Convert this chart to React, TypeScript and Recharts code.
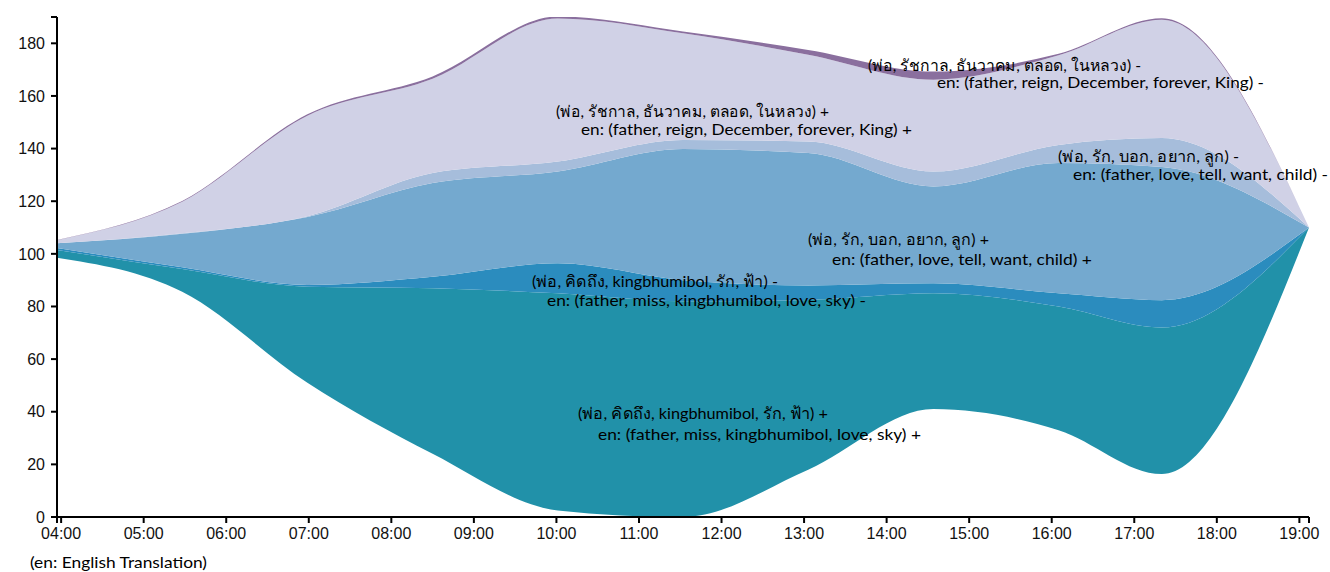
import { AreaChart, Area, XAxis, YAxis } from "recharts";

// sampling times
const times = ["03:57", "05:28", "06:59", "08:30", "10:01", "11:32", "13:03", "14:34", "16:05", "17:20", "19:07"];

// stream baseline (bottom edge of the river)
const baseline = [98.5, 85.6, 51, 24, 2.5, 0, 18, 41, 33, 16.3, 110];

// layer thicknesses, bottom to top
const missPos = [3, 8.6, 36.5, 62.9, 82.5, 82, 64.5, 44, 47, 55.7, 0];
const missNeg = [0.7, 0.7, 0.7, 4.4, 11.4, 8, 5.5, 3.8, 5, 10.4, 0];
const lovePos = [1.8, 12.7, 25.8, 35.6, 34.9, 49.8, 50.3, 36.8, 49.5, 50.6, 0];
const loveNeg = [0, 0.2, 0.3, 3.8, 3.8, 3.5, 4.4, 5.7, 6.9, 11, 0];
const reignPos = [1.2, 12, 38.2, 35.8, 54.3, 40.5, 33, 34.9, 34.1, 45, 0];
const reignNeg = [0.1, 0.3, 0.5, 0.9, 0.8, 0.7, 1.8, 3.1, 0.5, 0.5, 0];

const xTickLabels = ["04:00", "05:00", "06:00", "07:00", "08:00", "09:00", "10:00", "11:00", "12:00", "13:00", "14:00", "15:00", "16:00", "17:00", "18:00", "19:00"];
const yTicks = [0, 20, 40, 60, 80, 100, 120, 140, 160, 180];

const toMin = (s: string) => {
  const [h, m] = s.split(":").map(Number);
  return h * 60 + m;
};
const fmt = (v: number) => {
  const h = Math.floor(v / 60);
  const m = v % 60;
  return `${String(h).padStart(2, "0")}:${String(m).padStart(2, "0")}`;
};

const tStart = toMin(times[0]);
const tEnd = toMin(times[times.length - 1]);
const xTicks = [tStart, ...xTickLabels.map(toMin), tEnd];

const data = times.map((t, i) => ({
  t: toMin(t),
  base: baseline[i],
  missPos: missPos[i],
  missNeg: missNeg[i],
  lovePos: lovePos[i],
  loveNeg: loveNeg[i],
  reignPos: reignPos[i],
  reignNeg: reignNeg[i],
}));

const layers = [
  { key: "missPos", color: "#2191a9" },
  { key: "missNeg", color: "#2b8cbe" },
  { key: "lovePos", color: "#74a9cf" },
  { key: "loveNeg", color: "#a6bddb" },
  { key: "reignPos", color: "#d0d1e6" },
  { key: "reignNeg", color: "#8a6f9e" },
];

const labels = [
  { th: "(พ่อ, รัชกาล, ธันวาคม, ตลอด, ในหลวง) -", en: "en: (father, reign, December, forever, King) -", x: 868, y: 64, ex: 937, ey: 81, tw: 273, ew: 327 },
  { th: "(พ่อ, รัชกาล, ธันวาคม, ตลอด, ในหลวง) +", en: "en: (father, reign, December, forever, King) +", x: 556, y: 110, ex: 581, ey: 128, tw: 273, ew: 331 },
  { th: "(พ่อ, รัก, บอก, อยาก, ลูก) -", en: "en: (father, love, tell, want, child) -", x: 1058, y: 155, ex: 1073, ey: 173, tw: 181, ew: 255 },
  { th: "(พ่อ, รัก, บอก, อยาก, ลูก) +", en: "en: (father, love, tell, want, child) +", x: 808, y: 238, ex: 832, ey: 258, tw: 181, ew: 260 },
  { th: "(พ่อ, คิดถึง, kingbhumibol, รัก, ฟ้า) -", en: "en: (father, miss, kingbhumibol, love, sky) -", x: 532, y: 280, ex: 547, ey: 299, tw: 246, ew: 319 },
  { th: "(พ่อ, คิดถึง, kingbhumibol, รัก, ฟ้า) +", en: "en: (father, miss, kingbhumibol, love, sky) +", x: 578, y: 412, ex: 598, ey: 433, tw: 250, ew: 323 },
];

const tickStyle = { fill: "#111", fontSize: 16, fontFamily: "'Liberation Sans', Arial, sans-serif" };
const labelFont = "Lato, 'Noto Sans', sans-serif";

export default function App() {
  return (
    <div style={{ position: "absolute", left: 0, top: 0, width: 1330, height: 572, background: "#fff" }}>
      <AreaChart width={1330} height={572} data={data} margin={{ top: 17, right: 21, bottom: 25, left: 0 }}>
        <XAxis
          dataKey="t"
          type="number"
          domain={[tStart, tEnd]}
          ticks={xTicks}
          interval={0}
          tickFormatter={(v: number) => (v === tStart || v === tEnd ? "" : fmt(v))}
          tick={tickStyle}
          tickSize={6}
          tickMargin={5}
          height={30}
          axisLine={{ stroke: "#000", strokeWidth: 2 }}
          tickLine={{ stroke: "#000", strokeWidth: 2 }}
        />
        <YAxis
          type="number"
          domain={[0, 190]}
          ticks={[...yTicks, 190]}
          interval={0}
          allowDataOverflow
          tickFormatter={(v: number) => (v === 190 ? "" : String(v))}
          tick={tickStyle}
          tickSize={6}
          tickMargin={6}
          width={57}
          axisLine={{ stroke: "#000", strokeWidth: 2 }}
          tickLine={{ stroke: "#000", strokeWidth: 2 }}
        />
        <Area dataKey="base" stackId="s" type="monotone" stroke="none" fill="none" isAnimationActive={false} />
        {layers.map((l) => (
          <Area
            key={l.key}
            dataKey={l.key}
            stackId="s"
            type="monotone"
            stroke="none"
            fill={l.color}
            fillOpacity={1}
            isAnimationActive={false}
          />
        ))}
      </AreaChart>
      <svg width={1330} height={572} style={{ position: "absolute", left: 0, top: 0, pointerEvents: "none" }}>
        {labels.map((l, i) => (
          <g key={i} fill="#000" fontFamily={labelFont} fontSize={16}>
            <text x={l.x} y={l.y} dominantBaseline="central" textLength={l.tw} lengthAdjust="spacingAndGlyphs">{l.th}</text>
            <text x={l.ex} y={l.ey} dominantBaseline="central" textLength={l.ew} lengthAdjust="spacingAndGlyphs">{l.en}</text>
          </g>
        ))}
        <text x={30} y={561} dominantBaseline="central" fill="#000" fontFamily={labelFont} fontSize={16} textLength={177} lengthAdjust="spacingAndGlyphs">
          (en: English Translation)
        </text>
      </svg>
    </div>
  );
}
